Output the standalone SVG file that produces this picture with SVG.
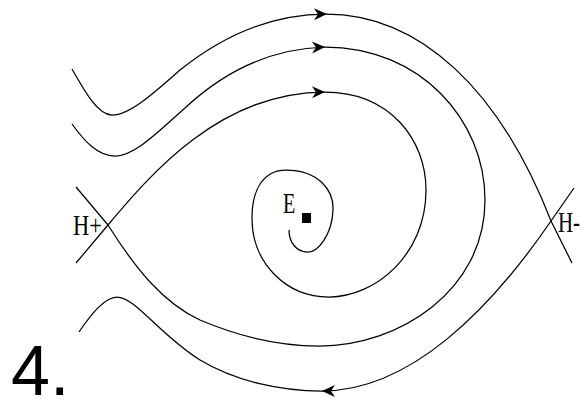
<svg xmlns="http://www.w3.org/2000/svg" width="586" height="404" viewBox="0 0 586 404">
<style>
.traj{fill:none;stroke:#000;stroke-width:1.25;stroke-linejoin:round}
.lbl{font-family:"Liberation Serif","Times New Roman",serif;font-size:22px;fill:#000}
.num{font-family:"Liberation Sans",Arial,sans-serif;font-size:70px;fill:#000}
</style>
<defs>
<path id="ah" d="M0,0 L-13,-6 L-9,0 L-13,6 Z" fill="#000"/>
</defs>
<rect width="586" height="404" fill="#fff"/>
<g id="trajectories">
<path id="curveA" class="traj" d="M72,69 C85,92 98,115 112,115 C130,115 155,92 180,70 C215,42 265,14 326,14 C420,14 500,90 551,221 L572,263"/>
<path id="curveB" class="traj" d="M72,124 C85,142 98,156 115,156 C135,156 160,130 185,108 C215,80 260,49 325,47 C420,47 485,120 485,200 C485,290 400,346 319,346 C280,346 240,337 200,320 C163,303 135,268 108,225 L76,187"/>
<path id="spiral" class="traj" d="M76,263 L108,225 C150,175 220,92 325,92 C390,92 426,140 426,190 C426,255 375,297 329,297 C285,297 252,262 252,218 C252,190 263,170 286,170 C318,170 334,190 333,210 C332,235 318,252 308,252 C296,252 289,242 289,230"/>
<path id="curveD" class="traj" d="M79,332 C92,313 105,297 117,297 C135,297 160,335 200,360 C235,381 280,391 322,391 C410,391 490,310 551,221 L574,188"/>
</g>
<g id="arrows">
<use href="#ah" transform="translate(327,14) rotate(-1)"/>
<use href="#ah" transform="translate(325,47) rotate(-2)"/>
<use href="#ah" transform="translate(325,92) rotate(-1)"/>
<use href="#ah" transform="translate(322,391) rotate(180)"/>
</g>
<g id="equilibrium">
<rect x="302" y="213" width="9" height="10" fill="#000"/>
<text class="lbl" transform="translate(283,213) scale(0.92,1.32)">E</text>
</g>
<g id="Hplus"><text class="lbl" transform="translate(73,235) scale(1.02,1.35)">H+</text></g>
<g id="Hminus"><text class="lbl" transform="translate(558,232) scale(0.95,1.32)">H-</text></g>
<text class="num" x="11" y="395">4.</text>
</svg>
